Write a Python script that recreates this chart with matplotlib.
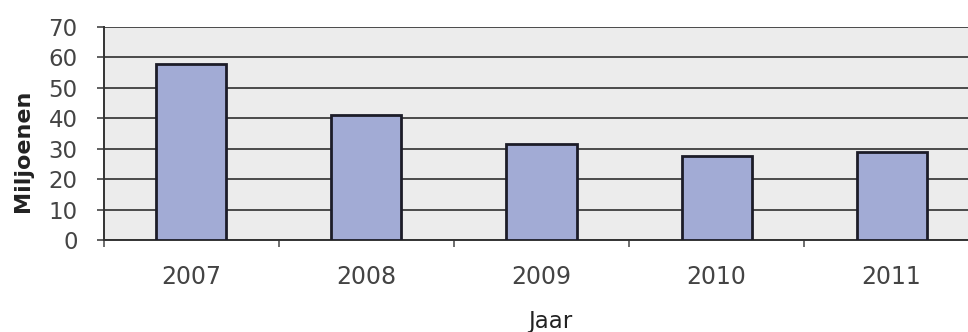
import numpy as np
import matplotlib
matplotlib.use('Agg')
import matplotlib.pyplot as plt

# Jaarlijkse aantallen (miljoenen)
jaren = ['2007', '2008', '2009', '2010', '2011']
miljoenen = [58, 41, 31.5, 27.7, 29]
y_ticks = [0, 10, 20, 30, 40, 50, 60, 70]

fig = plt.figure(figsize=(9.68, 3.32), dpi=100)
fig.patch.set_facecolor('white')
ax = fig.add_axes([0.1074, 0.277, 0.904, 0.6416])
ax.set_facecolor('#ececec')

x = np.arange(len(jaren))
ax.bar(x, miljoenen, width=0.4, color='#a2abd5', edgecolor='#1c1c28',
       linewidth=2, zorder=3)

ax.set_xlim(-0.5, len(jaren) - 0.5)
ax.set_ylim(0, 70)
ax.set_yticks(y_ticks)
ax.yaxis.grid(True, color='#4a4a4a', linewidth=1.4, zorder=1)
ax.set_axisbelow(True)

# tick marks on the category boundaries, labels centred under the bars
ax.set_xticks(np.arange(len(jaren) + 1) - 0.5)
ax.set_xticklabels([])
ax.set_xticks(x, minor=True)
ax.set_xticklabels(jaren, minor=True)
ax.tick_params(axis='x', which='minor', length=0, pad=18,
               labelsize=17, labelcolor='#444444')
ax.tick_params(axis='x', which='major', length=5, width=1.2, color='#555555')
ax.tick_params(axis='y', length=5, width=1.2, color='#444444', pad=14,
               labelsize=16.5, labelcolor='#444444')

for side in ['top', 'right']:
    ax.spines[side].set_visible(False)
ax.spines['left'].set_color('#333333')
ax.spines['left'].set_linewidth(1.4)
ax.spines['bottom'].set_color('#333333')
ax.spines['bottom'].set_linewidth(1.4)

ax.set_xlabel('Jaar', fontsize=16.5, color='#222222')
ax.xaxis.set_label_coords(0.5097, -0.33)
ax.set_ylabel('Miljoenen', fontsize=16, fontweight='bold', color='#222222')
ax.yaxis.set_label_coords(-0.081, 0.418)

plt.savefig('out.png', dpi=100)
plt.close('all')
